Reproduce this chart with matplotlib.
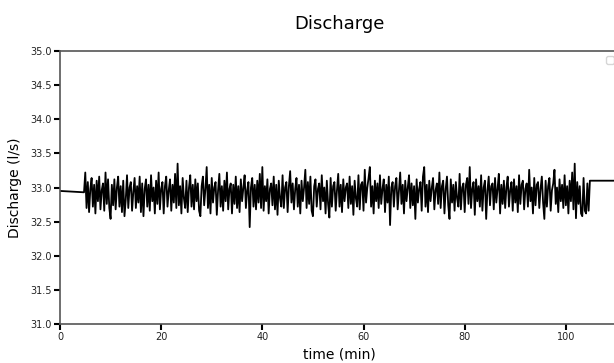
import numpy as np
import matplotlib.pyplot as plt

# flat section before the pump starts
pre_time = [0.0, 4.75]
pre_q = [32.95, 32.93]

# noisy section, sampled every 0.25 min starting at 5 min
noisy_start = 5.0
noisy_dt = 0.25
noisy_q = [
    33.22, 32.70, 33.08, 32.64, 32.98, 33.14, 32.72, 33.04, 32.62, 33.10, 32.80, 33.16, 32.68, 32.96, 33.06, 32.66, 33.22, 32.76, 33.12, 32.70,
    32.54, 33.04, 32.74, 33.12, 32.68, 33.00, 33.16, 32.72, 33.02, 32.64, 33.10, 32.58, 32.82, 33.18, 32.70, 33.00, 33.08, 32.66, 32.94, 33.14,
    32.70, 33.02, 32.78, 33.16, 32.64, 33.06, 32.58, 32.98, 33.12, 32.72, 33.04, 32.66, 33.18, 32.80, 33.00, 32.62, 33.10, 32.76, 33.22, 32.68,
    32.98, 33.08, 32.62, 33.02, 33.16, 32.72, 32.96, 33.12, 32.66, 33.04, 32.78, 33.20, 32.70, 33.35, 32.74, 33.02, 32.62, 33.14, 32.84, 32.70,
    33.10, 32.64, 33.00, 33.18, 32.72, 33.04, 32.68, 33.12, 32.80, 33.06, 32.66, 32.58, 33.02, 33.16, 32.74, 32.98, 33.30, 32.70, 33.04, 32.62,
    33.14, 32.78, 33.00, 33.08, 32.60, 32.96, 33.20, 32.72, 33.02, 32.66, 33.10, 32.80, 33.22, 32.68, 32.98, 33.06, 32.62, 33.04, 32.76, 33.16,
    32.70, 33.02, 32.64, 33.12, 32.80, 33.00, 33.18, 32.70, 32.96, 33.08, 32.42, 33.00, 33.14, 32.72, 33.04, 32.68, 33.10, 32.78, 33.20, 32.70,
    33.30, 32.66, 33.02, 32.80, 33.12, 32.62, 32.98, 33.06, 32.74, 33.16, 32.68, 33.04, 32.60, 33.10, 32.84, 32.72, 33.18, 32.70, 33.00, 33.08,
    32.64, 33.02, 33.24, 32.78, 33.06, 32.68, 32.98, 33.14, 32.72, 33.04, 32.62, 33.10, 32.80, 33.00, 33.26, 32.70, 33.08, 32.76, 33.16, 32.66,
    32.58, 33.02, 33.12, 32.72, 32.98, 33.06, 32.68, 33.18, 32.80, 33.00, 32.62, 33.10, 32.76, 32.56, 33.14, 32.72, 33.02, 33.08, 32.66, 32.96,
    33.20, 32.72, 33.04, 32.64, 33.12, 32.80, 33.00, 33.06, 32.70, 33.16, 32.76, 33.02, 32.60, 33.10, 32.84, 32.72, 33.18, 32.68, 33.04, 33.08,
    32.66, 33.26, 32.78, 33.00, 33.14, 33.30, 32.72, 33.02, 32.62, 33.10, 32.80, 33.06, 32.70, 33.18, 32.76, 32.98, 33.12, 32.64, 33.04, 32.78,
    33.16, 32.45, 33.00, 33.08, 32.72, 33.02, 33.14, 32.68, 32.96, 33.22, 32.76, 33.04, 32.62, 33.10, 32.80, 33.00, 33.18, 32.70, 33.06, 32.74,
    33.02, 32.54, 33.12, 32.78, 32.98, 33.08, 32.66, 33.16, 33.30, 32.72, 33.04, 32.64, 33.10, 32.80, 33.00, 33.14, 32.68, 32.96, 33.06, 32.76,
    33.22, 32.70, 33.02, 33.10, 32.62, 32.98, 33.16, 32.74, 32.54, 33.12, 32.78, 33.04, 32.66, 33.08, 32.84, 32.72, 33.20, 32.68, 33.00, 33.06,
    32.64, 33.04, 33.14, 32.76, 33.30, 32.70, 32.98, 33.08, 32.60, 33.12, 32.80, 33.02, 32.72, 33.18, 32.66, 33.00, 33.10, 32.54, 32.96, 33.16,
    32.74, 33.02, 33.06, 32.68, 33.14, 32.78, 32.98, 33.20, 32.62, 33.04, 32.76, 33.10, 32.70, 33.00, 33.16, 32.72, 32.96, 33.08, 32.66, 33.12,
    32.78, 33.02, 32.64, 33.18, 32.76, 33.04, 33.10, 32.68, 32.98, 33.06, 32.72, 33.26, 32.80, 33.00, 32.62, 33.14, 32.74, 33.04, 33.08, 32.70,
    32.98, 33.16, 32.78, 32.54, 33.10, 32.72, 33.02, 33.14, 32.66, 32.96, 33.06, 33.26, 32.76, 33.00, 32.64, 33.12, 32.80, 33.04, 32.70, 33.18,
    32.74, 33.02, 32.62, 33.10, 32.80, 33.22, 32.68, 33.35, 32.55, 33.08, 32.76, 33.02, 32.62, 32.58, 33.14, 32.66, 32.62, 33.06, 32.66,
]

# flat section after the pump stops
post_time = [104.75, 112.0]
post_q = [33.10, 33.10]

xticks = [0, 20, 40, 60, 80, 100]
yticks = [31.0, 31.5, 32.0, 32.5, 33.0, 33.5, 34.0, 34.5, 35.0]

noisy_time = noisy_start + noisy_dt * np.arange(len(noisy_q))
time = np.concatenate([pre_time, noisy_time, post_time])
q = np.concatenate([pre_q, noisy_q, post_q])

fig = plt.figure(figsize=(6.14, 3.63), dpi=100)
ax = fig.add_axes([0.0977, 0.1074, 0.9104, 0.752])

ax.plot(time, q, color='black', linewidth=1.3)

ax.set_xlim(0, 110.5)
ax.set_ylim(31.0, 35.0)
ax.set_xticks(xticks)
ax.set_yticks(yticks)
ax.set_yticklabels(['%.1f' % v for v in yticks])

ax.tick_params(axis='both', direction='out', length=4, width=1.5,
               color='black', labelsize=7, labelcolor='#222222', pad=2)
for side in ['left', 'bottom', 'top', 'right']:
    ax.spines[side].set_color('#555555')
    ax.spines[side].set_linewidth(1.2)

ax.set_title('Discharge', fontsize=13, pad=16)
ax.set_xlabel('time (min)', fontsize=10, labelpad=4)
ax.set_ylabel('Discharge (l/s)', fontsize=10, labelpad=6)
ax.legend(loc='upper right', fontsize=7)

fig.savefig('out.png', dpi=100)
